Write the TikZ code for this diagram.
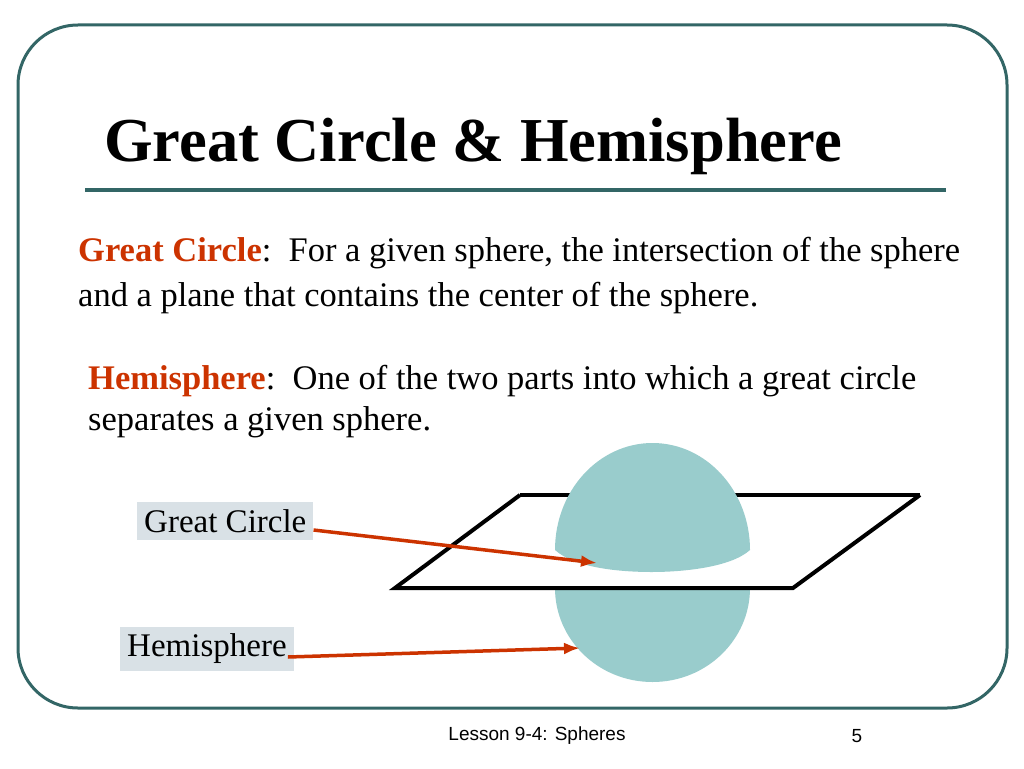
\documentclass[tikz,border=0pt]{standalone}
\usepackage{fontspec}
\usetikzlibrary{arrows.meta}
\setmainfont{Liberation Serif}
\newfontfamily\footfont{Liberation Sans}
\begin{document}
\begin{tikzpicture}[x=1pt,y=-1pt,
  lbl/.style={font=\fontsize{33}{36}\selectfont, inner sep=7pt, anchor=west, fill=lb},
  plane/.style={draw=black, line width=4pt},
  arr/.style={draw=rd, line width=3.5pt, -{Latex[length=16pt,width=12pt]}},
  body/.style={font=\fontsize{34.5}{44}\selectfont, align=left, anchor=base west, inner sep=0pt}]
\definecolor{sph}{HTML}{99CCCC}
\definecolor{lb}{HTML}{D9E1E6}
\definecolor{fr}{HTML}{336666}
\definecolor{rd}{HTML}{CC3300}
\useasboundingbox (0,0) rectangle (1024,768);
\fill[white] (0,0) rectangle (1024,768);
\draw[draw=fr, line width=3pt, rounded corners=60pt] (18,25) rectangle (1007,708);
\node[font=\bfseries\fontsize{62.5}{64}\selectfont, anchor=base west, inner sep=0pt] (title) at (104,161) {Great Circle \& Hemisphere};
\draw[draw=fr, line width=3.5pt] (85,190) -- (946,190);
\node[body] (gc) at (78,261) {\textcolor{rd}{\bfseries Great Circle}:\ \ For a given sphere, the intersection of the sphere};
\node[body] (gc2) at (78,306) {and a plane that contains the center of the sphere.};
\node[body] (hs) at (88,389) {\textcolor{rd}{\bfseries Hemisphere}:\ \ One of the two parts into which a great circle};
\node[body] (hs2) at (88,430) {separates a given sphere.};
% plane back
\draw[plane] (520,495) -- (920,495);
% top hemisphere
\fill[sph] (555,550) arc[start angle=180, end angle=360, x radius=97.5, y radius=107]
  -- (750,550) .. controls (730,568) and (680,572) .. (652,572) .. controls (620,572) and (575,568) .. (555,550) -- cycle;
% bottom
\fill[sph] (555,588) -- (750,588) arc[start angle=0, end angle=180, x radius=97.5, y radius=94] -- cycle;
\draw[plane, line join=miter] (920,495) -- (793,588) -- (395,588) -- (520,495);
\node[lbl] (lgc) at (137,521) {Great Circle\hspace{18pt}};
\node[lbl] (lhs) at (120,649) {Hemisphere};
\coordinate (gct) at (597,563);
\coordinate (hst) at (580,648);
\draw[arr] (lgc.east) ++(0,9) -- (gct);
\draw[arr] (lhs.east) ++(-6,8) -- (hst);
\node[font=\footfont\fontsize{19}{20}\selectfont] (foot) at (537,736) {Lesson 9-4: Spheres};
\node[font=\footfont\fontsize{19}{20}\selectfont] (pg) at (857,736) {5};
\end{tikzpicture}
\end{document}
